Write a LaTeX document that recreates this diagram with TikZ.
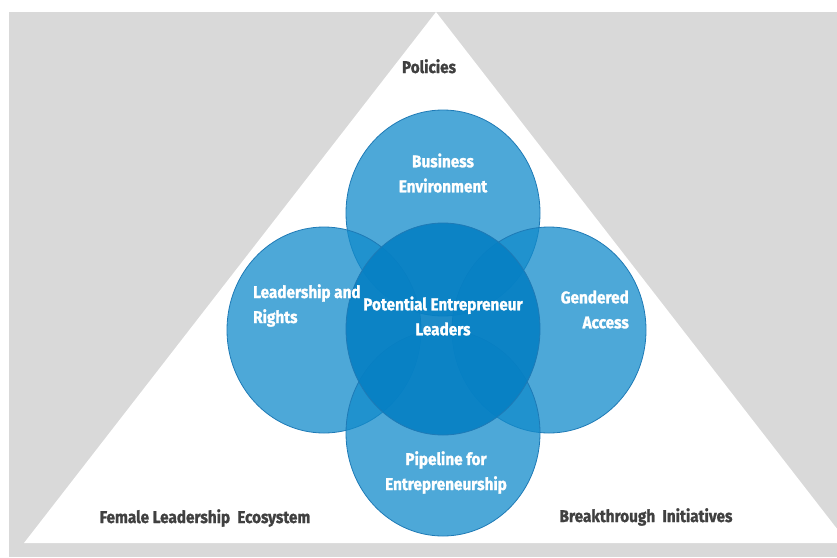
\documentclass[tikz,border=0pt]{standalone}
\usepackage{fontspec}
\setmainfont{Fira Sans}[FakeStretch=0.9,BoldFeatures={FakeBold=1.2}]
\usetikzlibrary{shapes.geometric}
\definecolor{backGray}{RGB}{217,217,217}
\definecolor{petalBlue}{RGB}{18,139,203}
\definecolor{coreBlue}{RGB}{6,128,196}
\definecolor{petalEdge}{RGB}{30,122,182}
\definecolor{labelGray}{RGB}{64,64,64}
\begin{document}
\begin{tikzpicture}[x=1pt,y=-1pt,
  petal/.style={ellipse,draw=petalEdge,line width=0.8pt,fill=petalBlue,fill opacity=0.75,
    minimum width=194pt,minimum height=206pt,inner sep=0pt},
  core/.style={petal,fill=coreBlue,fill opacity=0.9,minimum height=212pt},
  intext/.style={text=white,font=\bfseries\fontsize{17}{25}\selectfont,inner sep=0pt},
  outtext/.style={text=labelGray,font=\bfseries\fontsize{17}{19}\selectfont,inner sep=0pt,anchor=base}]
\useasboundingbox (0,0) rectangle (837,557);
\clip (0,0) rectangle (837,557);
\fill[white] (0,0) rectangle (837,557);
\fill[backGray] (9,12) rectangle (837,557);
\fill[white] (436,12) -- (24,543) -- (848,543) -- cycle;

\node[petal] (topPetal) at (443,213) {};
\node[petal] (leftPetal) at (324,330) {};
\node[petal] (rightPetal) at (549,330) {};
\node[petal] (bottomPetal) at (443,433) {};
\node[core] (corePetal) at (443,329) {};

\node[intext,align=center] (busText) at (443,173) {Business\\Environment};
\node[intext,align=left,anchor=west] (leadText) at (253,305.5) {Leadership and\\Rights};
\node[intext,align=center] (coreText) at (443,316) {Potential Entrepreneur\\Leaders};
\node[intext,align=right,anchor=east] (genText) at (629,309.5) {Gendered\\Access};
\node[intext,align=center] (pipeText) at (446,472.5) {Pipeline for\\Entrepreneurship};

\node[outtext] (policyText) at (429,73) {Policies};
\node[outtext] (femaleText) at (205,523) {Female Leadership~ Ecosystem};
\node[outtext] (breakText) at (646,522) {Breakthrough~ Initiatives};
\end{tikzpicture}
\end{document}
